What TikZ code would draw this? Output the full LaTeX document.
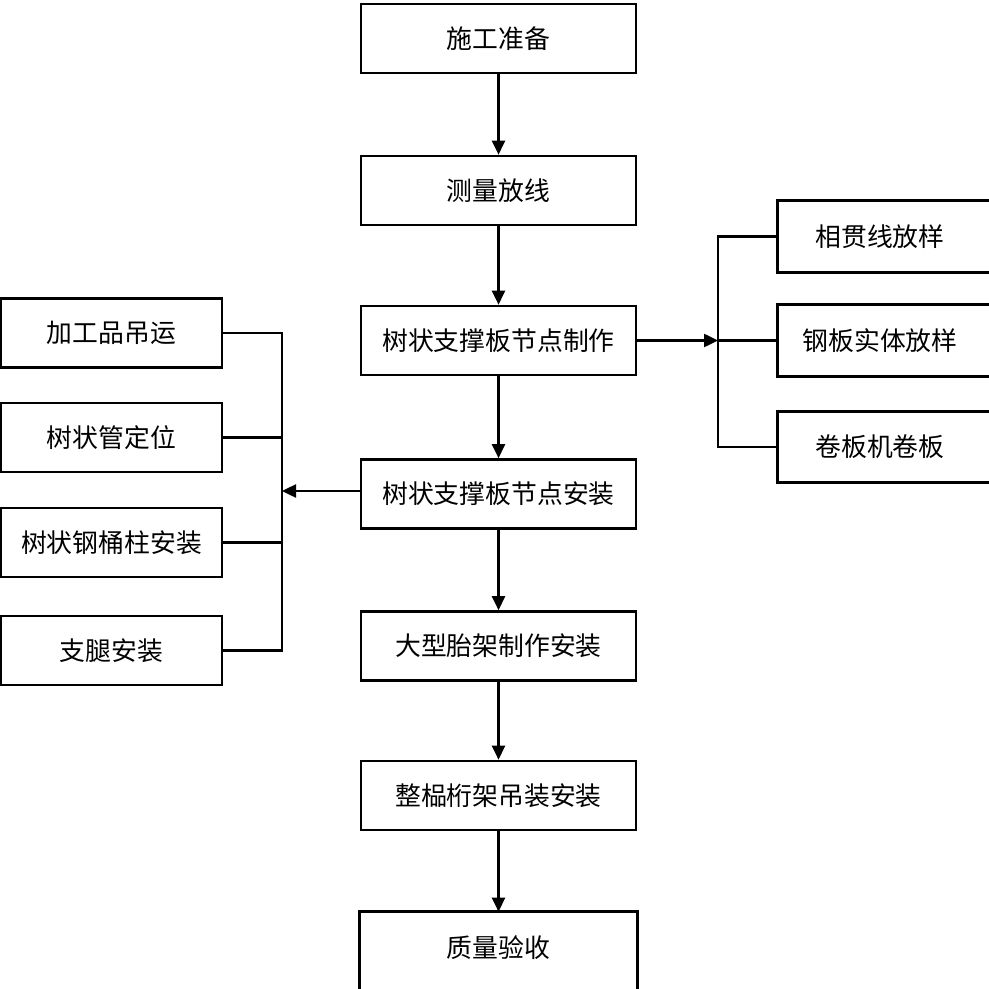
\documentclass[tikz,border=0pt]{standalone}
\usepackage{fontspec}
\setmainfont{Noto Sans CJK SC}
\usetikzlibrary{arrows.meta,positioning}
\tikzset{
  box/.style={draw, line width=1.5pt, minimum height=1.38cm, inner sep=2pt,
    font=\fontsize{14.7pt}{17pt}\selectfont},
  midbox/.style={box, minimum width=5.5cm},
  sidebox/.style={box, minimum width=4.42cm},
  openbox/.style={box, draw=none, minimum width=4.06cm},
  line/.style={line width=1.4pt},
  arr/.style={line, -{Triangle[length=0.28cm,width=0.26cm]}}
}
\begin{document}
\begin{tikzpicture}[x=0.02cm,y=-0.02cm]
	\useasboundingbox (0,0) rectangle (988,989);
	
	% Main flow
	\node[midbox] (prep) at (498.5,38.5) {施工准备};
	\node[midbox] (survey) at (498.5,190.5) {测量放线};
	\node[midbox] (make) at (498.5,340.5) {树状支撑板节点制作};
	\node[midbox] (inst) at (498.5,494) {树状支撑板节点安装};
	\node[midbox] (frame) at (498.5,646) {大型胎架制作安装};
	\node[midbox] (truss) at (498.5,795.5) {整榀桁架吊装安装};
	\node[midbox, draw=none] (check) at (498.5,947.5) {质量验收};
	\draw[line width=1.5pt] ([yshift=-20pt]check.south west) |- (check.north east) -- ([yshift=-20pt]check.south east);
	
	\draw[arr] (prep) -- (survey);
	\draw[arr] (survey) -- (make);
	\draw[arr] (make) -- (inst);
	\draw[arr] (inst) -- (frame);
	\draw[arr] (frame) -- (truss);
	\draw[arr] (truss) -- (check.north);
	
	% Right branch
	\node[openbox] (lofting) at (880,236.5) {相贯线放样};
	\node[openbox] (plate) at (880,340.5) {钢板实体放样};
	\node[openbox] (roll) at (880,447) {卷板机卷板};
	\foreach \n in {lofting,plate,roll} {
		\draw[line width=1.5pt] ([xshift=20pt]\n.north east) -| (\n.south west) -- ([xshift=20pt]\n.south east);
	}
	\coordinate (rj) at (718,340.5);
	\draw[arr] (make.east) -- (rj);
	\draw[line] (lofting.west) -- (lofting.west -| rj) -- (roll.west -| rj) -- (roll.west);
	\draw[line] (rj) -- (plate.west);
	
	% Left branch
	\node[sidebox] (lift) at (111.5,333) {加工品吊运};
	\node[sidebox] (tube) at (111.5,437.5) {树状管定位};
	\node[sidebox] (column) at (111.5,542.5) {树状钢桶柱安装};
	\node[sidebox] (leg) at (111.5,650.5) {支腿安装};
	\coordinate (lj) at (282,491);
	\draw[arr] (inst.west |- lj) -- (lj);
	\draw[line] (lift.east) -- (lift.east -| lj) -- (leg.east -| lj) -- (leg.east);
	\draw[line] (tube.east) -- (tube.east -| lj);
	\draw[line] (column.east) -- (column.east -| lj);
	
\end{tikzpicture}
\end{document}
